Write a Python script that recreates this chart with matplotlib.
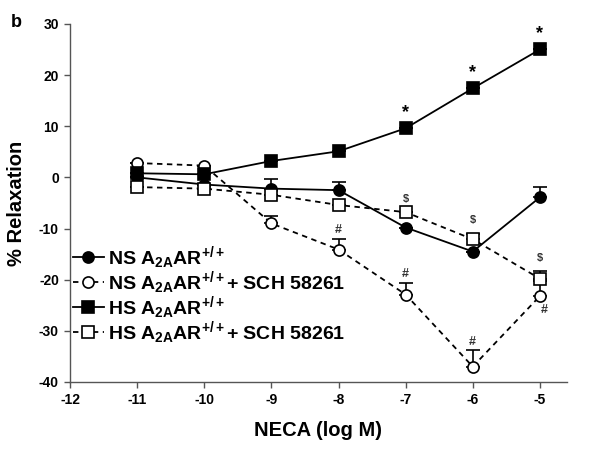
import matplotlib
matplotlib.use("Agg")
import matplotlib.pyplot as plt
import numpy as np

# NECA concentrations (log M)
neca = [-11, -10, -9, -8, -7, -6, -5]

# % relaxation
ns = [0.0, -1.4, -2.2, -2.5, -9.8, -14.5, -3.9]
ns_err = [0, 0, 1.8, 1.5, 0, 0, 2.1]
ns_sch = [2.8, 2.3, -9.0, -14.1, -22.9, -37.0, -23.2]
ns_sch_err = [0, 0, 1.4, 2.0, 2.2, 3.2, 3.0]
hs = [0.8, 0.6, 3.2, 5.1, 9.6, 17.4, 25.0]
hs_err = [0, 0, 0, 0, 0, 0, 0]
hs_sch = [-1.9, -2.2, -3.4, -5.4, -6.8, -12.1, -19.8]
hs_sch_err = [0, 0, 0, 0, 0, 1.1, 1.4]

labels = [
    r"NS A$_{2A}$AR$^{+/+}$",
    r"NS A$_{2A}$AR$^{+/+}$+ SCH 58261",
    r"HS A$_{2A}$AR$^{+/+}$",
    r"HS A$_{2A}$AR$^{+/+}$+ SCH 58261",
]

star_idx = [4, 5, 6]
dollar_idx = [4, 5, 6]
hash_idx = [3, 4, 5]
hash_below_idx = [6]

plt.rcParams["font.family"] = ["Liberation Sans", "DejaVu Sans"]
plt.rcParams["font.weight"] = "bold"
plt.rcParams["axes.unicode_minus"] = False
plt.rcParams["mathtext.fontset"] = "custom"
plt.rcParams["mathtext.rm"] = "Liberation Sans:bold"
plt.rcParams["mathtext.it"] = "Liberation Sans:bold"
plt.rcParams["mathtext.bf"] = "Liberation Sans:bold"

fig = plt.figure(figsize=(6.01, 4.51), dpi=100)
ax = fig.add_axes([0.1165, 0.153, 0.8265, 0.794])

lw = 1.3
ms = 8
series = [
    (ns, ns_err, "-", "o", "black", labels[0]),
    (ns_sch, ns_sch_err, "--", "o", "white", labels[1]),
    (hs, hs_err, "-", "s", "black", labels[2]),
    (hs_sch, hs_sch_err, "--", "s", "white", labels[3]),
]
handles = []
for y, err, ls, mk, fc, lab in series:
    e = np.array(err)
    ax.errorbar(neca, y, yerr=[np.zeros_like(e), e], fmt="none",
                ecolor="black", elinewidth=1.2, capsize=5, capthick=1.2, zorder=2)
    (h,) = ax.plot(neca, y, linestyle=ls, marker=mk, color="black", lw=lw,
                   markersize=ms, markerfacecolor=fc, markeredgecolor="black",
                   markeredgewidth=1.2, label=lab, zorder=3,
                   dashes=(3, 2.5) if ls == "--" else (None, None))
    handles.append(h)

for i in star_idx:
    ax.annotate("*", (neca[i], hs[i]), xytext=(0, 5), textcoords="offset points",
                ha="center", va="bottom", fontsize=13)
for i in dollar_idx:
    ax.annotate("$", (neca[i], hs_sch[i] + hs_sch_err[i]), xytext=(0, 6),
                textcoords="offset points", ha="center", va="bottom", fontsize=8,
                color="#333333")
for i in hash_idx:
    ax.annotate("#", (neca[i], ns_sch[i] + ns_sch_err[i]), xytext=(0, 2),
                textcoords="offset points", ha="center", va="bottom", fontsize=9,
                color="#333333")
for i in hash_below_idx:
    ax.annotate("#", (neca[i], ns_sch[i]), xytext=(3, -6),
                textcoords="offset points", ha="center", va="top", fontsize=9,
                color="#333333")

ax.set_xlim(-12, -4.6)
ax.set_ylim(-40, 30)
ax.set_xticks(range(-12, -4))
ax.set_yticks(range(-40, 31, 10))
for s in ["top", "right"]:
    ax.spines[s].set_visible(False)
for s in ["left", "bottom"]:
    ax.spines[s].set_color("#555555")
    ax.spines[s].set_linewidth(1.0)
ax.tick_params(direction="out", length=4, width=1, color="#555555",
               labelsize=10, pad=4)
for t in ax.get_xticklabels() + ax.get_yticklabels():
    t.set_fontweight("bold")

ax.set_xlabel("NECA (log M)", fontsize=14.5, fontweight="bold", labelpad=10)
ax.set_ylabel("% Relaxation", fontsize=14.5, fontweight="bold", labelpad=9)

leg = ax.legend(handles=handles, loc="upper left", bbox_to_anchor=(0.005, 0.385),
                frameon=False, fontsize=14, handlelength=1.6, handletextpad=0.25,
                labelspacing=-0.1, borderpad=0, borderaxespad=0)

fig.text(0.018, 0.97, "b", fontsize=13, fontweight="bold", va="top")

fig.savefig("out.png", dpi=100)
